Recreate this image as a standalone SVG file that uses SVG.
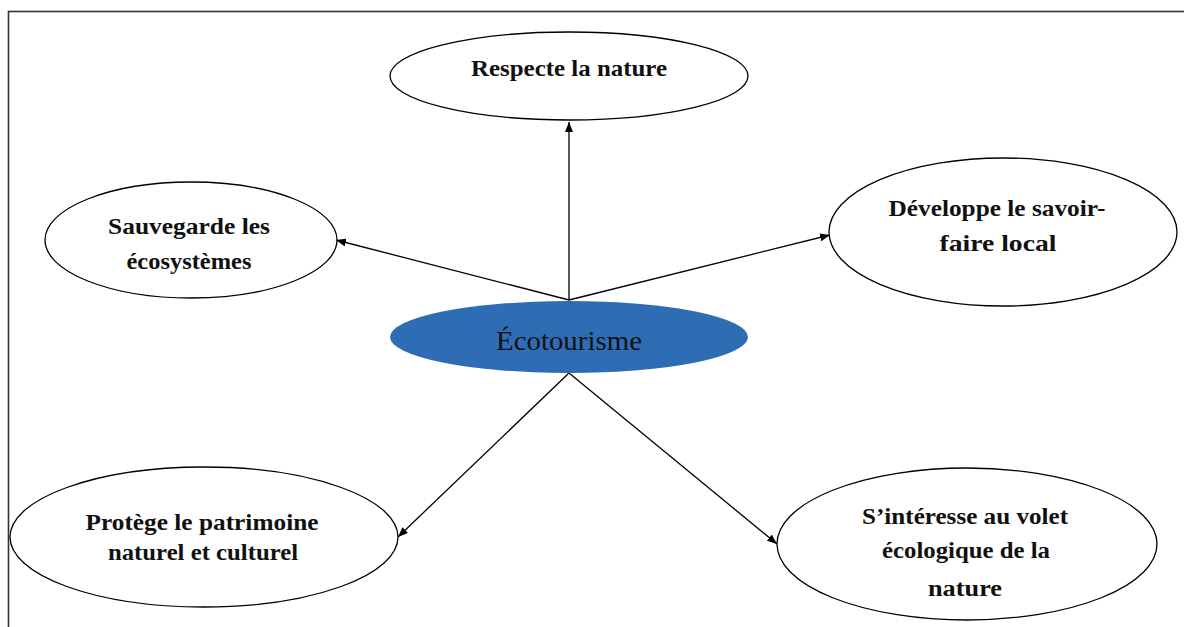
<svg xmlns="http://www.w3.org/2000/svg" width="1184" height="627" viewBox="0 0 1184 627">
<style>
.node{fill:#fff;stroke:#000;stroke-width:1.3}
.lbl{font-family:"Liberation Serif","Times New Roman",serif;font-weight:bold;font-size:23px;fill:#111;text-anchor:middle}
.conn{stroke:#000;stroke-width:1.3;fill:none;marker-end:url(#arr)}
</style>
<defs>
<marker id="arr" viewBox="0 0 10 8" refX="10" refY="4" markerWidth="10" markerHeight="8" markerUnits="userSpaceOnUse" orient="auto">
<path d="M0,0 L10,4 L0,8 Z" fill="#000"/>
</marker>
</defs>
<rect width="1184" height="627" fill="#fff"/>
<rect x="8.5" y="11.5" width="1200" height="640" fill="none" stroke="#333" stroke-width="1.6"/>
<g id="connectors">
<line class="conn" x1="569" y1="300" x2="569" y2="122"/>
<line class="conn" x1="569" y1="300" x2="336" y2="240"/>
<line class="conn" x1="569" y1="300" x2="830" y2="235"/>
<line class="conn" x1="569" y1="373" x2="398" y2="537"/>
<line class="conn" x1="569" y1="373" x2="777" y2="544"/>
</g>
<g id="center">
<ellipse cx="569" cy="337" rx="179" ry="36" fill="#2e6db4"/>
<text x="569" y="350" font-family="Liberation Serif,'Times New Roman',serif" font-size="28" text-anchor="middle" fill="#111" textLength="146" lengthAdjust="spacingAndGlyphs">Écotourisme</text>
</g>
<g id="respecte">
<ellipse class="node" cx="569" cy="76" rx="179" ry="44"/>
<text class="lbl" x="569" y="76" textLength="196" lengthAdjust="spacingAndGlyphs">Respecte la nature</text>
</g>
<g id="sauvegarde">
<ellipse class="node" cx="191" cy="240" rx="146" ry="58"/>
<text class="lbl" x="189" y="234" textLength="162" lengthAdjust="spacingAndGlyphs">Sauvegarde les</text>
<text class="lbl" x="189" y="269" textLength="125" lengthAdjust="spacingAndGlyphs">écosystèmes</text>
</g>
<g id="developpe">
<ellipse class="node" cx="1003" cy="232" rx="174" ry="74"/>
<text class="lbl" x="997" y="216" textLength="217" lengthAdjust="spacingAndGlyphs">Développe le savoir-</text>
<text class="lbl" x="998" y="251" textLength="117" lengthAdjust="spacingAndGlyphs">faire local</text>
</g>
<g id="protege">
<ellipse class="node" cx="204" cy="537" rx="194" ry="70"/>
<text class="lbl" x="202" y="530" textLength="233" lengthAdjust="spacingAndGlyphs">Protège le patrimoine</text>
<text class="lbl" x="203" y="560" textLength="190" lengthAdjust="spacingAndGlyphs">naturel et culturel</text>
</g>
<g id="interesse">
<ellipse class="node" cx="967" cy="544" rx="190" ry="76"/>
<text class="lbl" x="965" y="524" textLength="206" lengthAdjust="spacingAndGlyphs">S’intéresse au volet</text>
<text class="lbl" x="966" y="558" textLength="168" lengthAdjust="spacingAndGlyphs">écologique de la</text>
<text class="lbl" x="965" y="596" textLength="74" lengthAdjust="spacingAndGlyphs">nature</text>
</g>
</svg>
